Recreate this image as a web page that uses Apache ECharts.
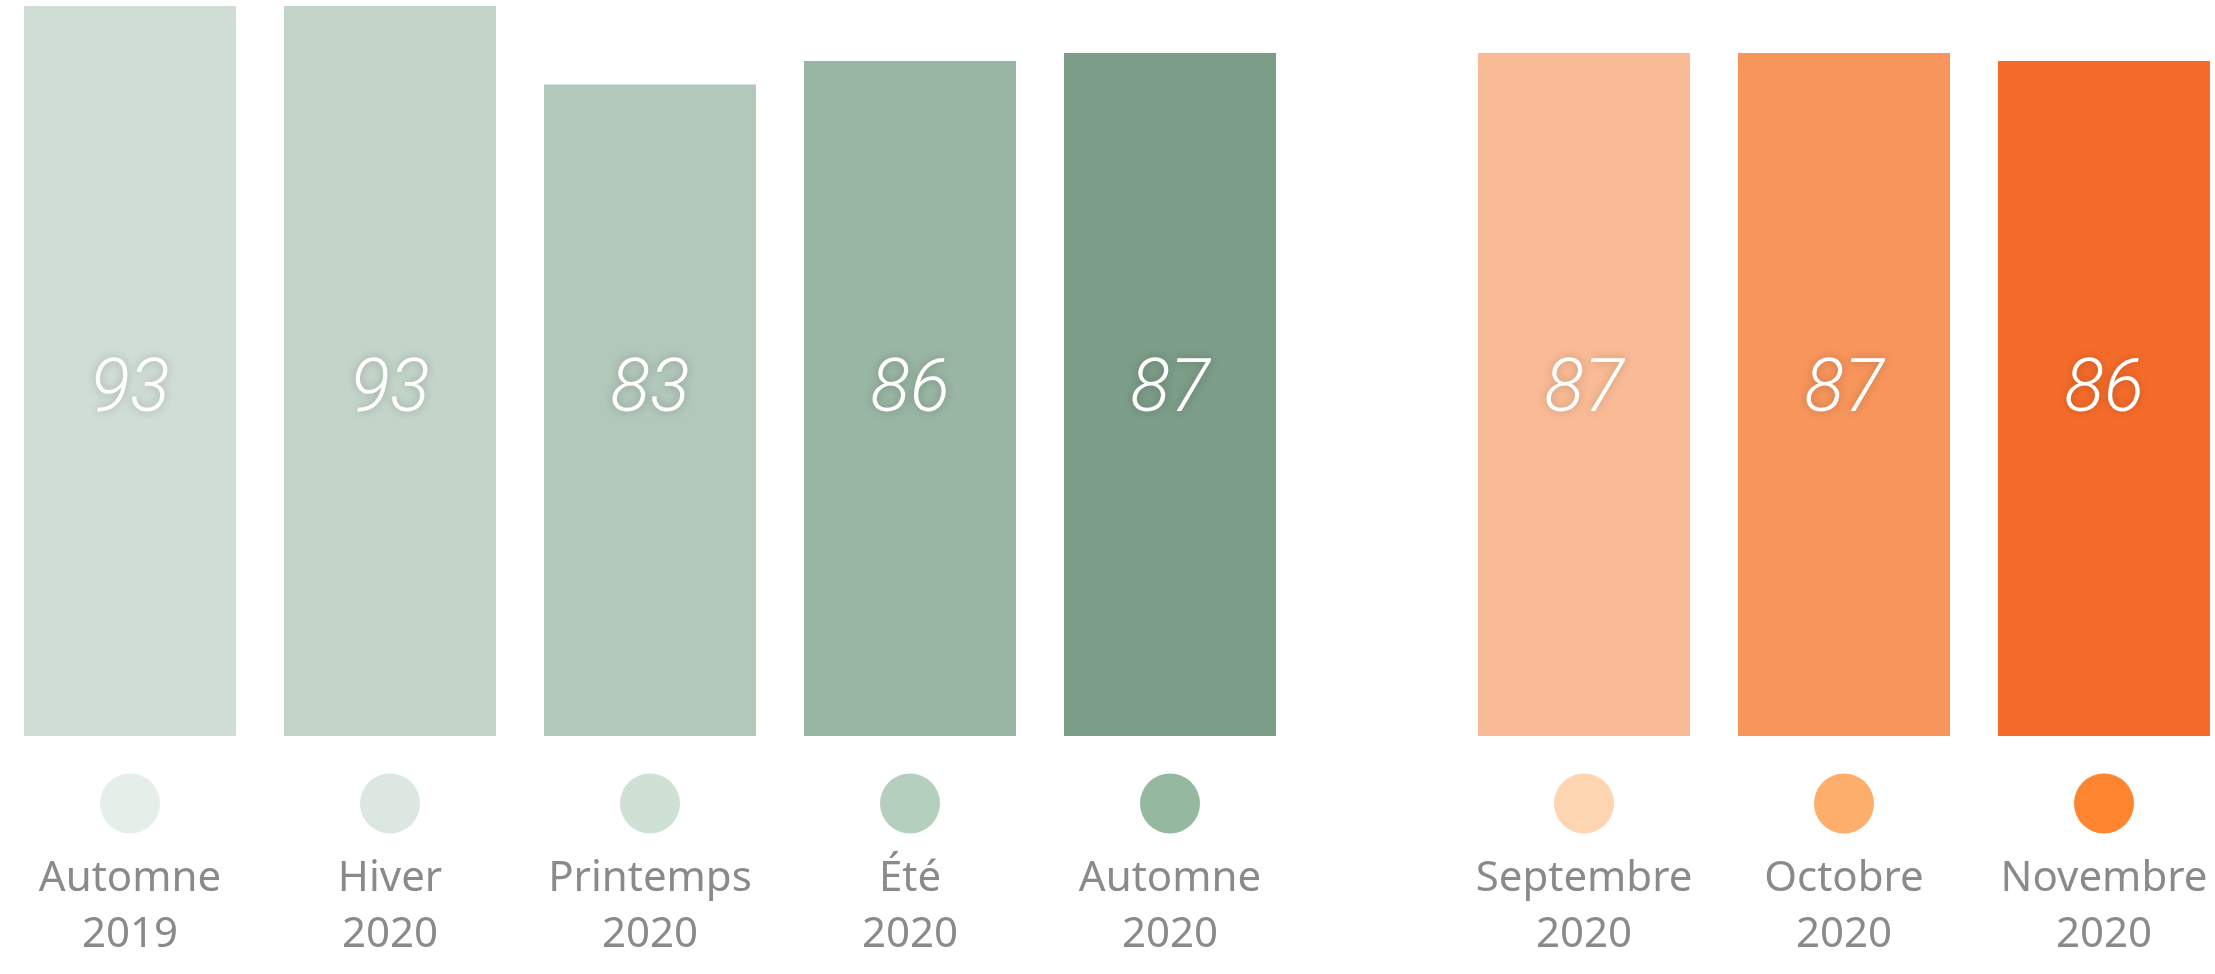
<!DOCTYPE html>
<html>
<head>
<meta charset="utf-8">
<script src="https://cdn.jsdelivr.net/npm/echarts@6/dist/echarts.min.js"></script>
<style>
  html, body { margin: 0; padding: 0; background: #ffffff; }
  #chart { width: 2215px; height: 974px; }
</style>
</head>
<body>
<div id="chart"></div>
<script>
// saisons (vert) et mois (orange)
const seasonNames = ['Automne\n2019', 'Hiver\n2020', 'Printemps\n2020', 'Été\n2020', 'Automne\n2020']
const seasonValues = [93, 93, 83, 86, 87]
const monthNames = ['Septembre\n2020', 'Octobre\n2020', 'Novembre\n2020']
const monthValues = [87, 87, 86]

// couleurs des barres et des pastilles
const seasonBarColors = ['#d0ddd5', '#c3d4c9', '#b2c8ba', '#99b5a3', '#7c9d88']
const seasonDotColors = ['#e5eee9', '#dce7e1', '#cfe0d5', '#b5cfbf', '#94b8a0']
const monthBarColors = ['#f9bb95', '#f7955c', '#f56c2a']
const monthDotColors = ['#fdd6b1', '#fdae6b', '#fd8530']

function richFor (dots) {
  const rich = {
    txt: { fontFamily: 'Noto Sans', fontSize: 42, color: '#8a8a8a', lineHeight: 56 }
  }
  dots.forEach(function (c, i) {
    rich['d' + i] = { width: 60, height: 60, borderRadius: 30, backgroundColor: c, lineHeight: 95 }
  })
  return rich
}

function labelFormatter (names) {
  return function (value, index) {
    const i = names.indexOf(value)
    const parts = value.split('\n')
    return '{d' + i + '|}\n{txt|' + parts[0] + '}\n{txt|' + parts[1] + '}'
  }
}

function barSeries (values, colors, axisIndex) {
  return {
    type: 'bar',
    xAxisIndex: axisIndex,
    yAxisIndex: axisIndex,
    barWidth: 212,
    data: values.map(function (v, i) {
      return { value: v, itemStyle: { color: colors[i] } }
    }),
    label: {
      show: true,
      position: 'insideBottom',
      distance: 344,
      verticalAlign: 'middle',
      color: '#ffffff',
      fontFamily: 'Roboto',
      fontStyle: 'italic',
      fontWeight: 300,
      fontSize: 74,
      textShadowColor: 'rgba(0, 0, 0, 0.22)',
      textShadowBlur: 10
    }
  }
}

const chart = echarts.init(document.getElementById('chart'))
chart.setOption({
  animation: false,
  backgroundColor: '#ffffff',
  grid: [
    { left: 0, top: 6, width: 1300, bottom: 238, outerBoundsMode: 'none' },
    { left: 1454, top: 6, width: 780, bottom: 238, outerBoundsMode: 'none' }
  ],
  xAxis: [
    {
      type: 'category', gridIndex: 0, data: seasonNames,
      axisLine: { show: false }, axisTick: { show: false },
      axisLabel: { margin: 20, interval: 0, formatter: labelFormatter(seasonNames), rich: richFor(seasonDotColors) }
    },
    {
      type: 'category', gridIndex: 1, data: monthNames,
      axisLine: { show: false }, axisTick: { show: false },
      axisLabel: { margin: 20, interval: 0, formatter: labelFormatter(monthNames), rich: richFor(monthDotColors) }
    }
  ],
  yAxis: [
    { type: 'value', gridIndex: 0, min: 0, max: 93, show: false },
    { type: 'value', gridIndex: 1, min: 0, max: 93, show: false }
  ],
  series: [
    barSeries(seasonValues, seasonBarColors, 0),
    barSeries(monthValues, monthBarColors, 1)
  ]
})
</script>
</body>
</html>
